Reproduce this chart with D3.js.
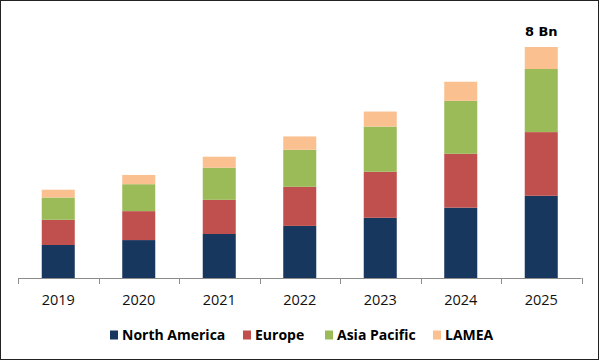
<!DOCTYPE html>
<html>
<head>
<meta charset="utf-8">
<script src="https://cdn.jsdelivr.net/npm/d3@7"></script>
<style>
  body { margin: 0; background: #fff; }
  svg { display: block; }
</style>
</head>
<body>
<div class="chart"></div>
<script>
// values in Bn
const years = ["2019", "2020", "2021", "2022", "2023", "2024", "2025"];
const northAmerica = [1.14, 1.31, 1.52, 1.80, 2.08, 2.43, 2.84];
const europe = [0.87, 1.00, 1.18, 1.35, 1.59, 1.86, 2.20];
const asiaPacific = [0.77, 0.93, 1.11, 1.28, 1.56, 1.83, 2.18];
const lamea = [0.27, 0.32, 0.38, 0.46, 0.52, 0.66, 0.76];
const regions = ["North America", "Europe", "Asia Pacific", "LAMEA"];
const colors = ["#17375E", "#C0504D", "#9BBB59", "#FAC090"];
const topLabel = "8 Bn";

const WIDTH = 600, HEIGHT = 361;
const MARGINS = { top: 47, right: 18.5, bottom: 83, left: 18 };

const rows = years.map(function (y, i) {
  return { year: y, "North America": northAmerica[i], "Europe": europe[i],
           "Asia Pacific": asiaPacific[i], "LAMEA": lamea[i] };
});

const svg = d3.select(".chart")
  .append("svg")
  .attr("width", WIDTH)
  .attr("height", HEIGHT);

svg.append("rect")
  .attr("x", 0.5).attr("y", 0.5)
  .attr("width", WIDTH - 2).attr("height", HEIGHT - 2)
  .attr("fill", "#fff")
  .attr("stroke", "#222");

const xRange = d3.scaleBand()
  .domain(years)
  .range([MARGINS.left, WIDTH - MARGINS.right])
  .paddingInner(0.59)
  .paddingOuter(0.295);

const stack = d3.stack().keys(regions)(rows);
const maxTotal = d3.max(stack[stack.length - 1], function (d) { return d[1]; });

const yRange = d3.scaleLinear()
  .domain([0, maxTotal])
  .range([HEIGHT - MARGINS.bottom, MARGINS.top]);

const color = d3.scaleOrdinal().domain(regions).range(colors);

svg.selectAll(".series")
  .data(stack)
  .enter()
  .append("g")
  .attr("class", "series")
  .attr("fill", function (d) { return color(d.key); })
  .selectAll("rect")
  .data(function (d) { return d; })
  .enter()
  .append("rect")
  .attr("x", function (d) { return xRange(d.data.year); })
  .attr("y", function (d) { return yRange(d[1]); })
  .attr("height", function (d) { return yRange(d[0]) - yRange(d[1]); })
  .attr("width", xRange.bandwidth());

// axis: line plus ticks on category boundaries
const baseY = yRange(0);
const axis = svg.append("g").attr("stroke", "#8c8c8c").attr("stroke-width", 1);
axis.append("line")
  .attr("x1", MARGINS.left).attr("x2", WIDTH - MARGINS.right)
  .attr("y1", baseY + 0.5).attr("y2", baseY + 0.5);
const step = xRange.step();
const bounds = d3.range(years.length + 1).map(function (i) {
  return MARGINS.left + i * step;
});
axis.selectAll(".tick")
  .data(bounds)
  .enter()
  .append("line")
  .attr("x1", function (d) { return Math.round(d) + 0.5; })
  .attr("x2", function (d) { return Math.round(d) + 0.5; })
  .attr("y1", baseY)
  .attr("y2", baseY + 6);

svg.selectAll(".year")
  .data(years)
  .enter()
  .append("text")
  .attr("class", "year")
  .attr("x", function (d) { return xRange(d) + xRange.bandwidth() / 2; })
  .attr("y", baseY + 27)
  .attr("text-anchor", "middle")
  .style("font-family", "'Open Sans', sans-serif")
  .style("font-size", "14.5px")
  .style("fill", "#111")
  .text(function (d) { return d; });

// total label on last bar
const last = years[years.length - 1];
svg.append("text")
  .attr("x", xRange(last) + xRange.bandwidth() / 2)
  .attr("y", yRange(maxTotal) - 11)
  .attr("text-anchor", "middle")
  .style("font-family", "'DejaVu Sans', sans-serif")
  .style("font-weight", "bold")
  .style("font-size", "13px")
  .style("fill", "#000")
  .text(topLabel);

// legend
const legendX = [110, 243, 325, 433];
const legend = svg.selectAll(".legend")
  .data(regions)
  .enter()
  .append("g")
  .attr("class", "legend")
  .attr("transform", function (d, i) { return "translate(" + legendX[i] + ",335)"; });
legend.append("rect")
  .attr("x", 0).attr("y", -4.5)
  .attr("width", 8).attr("height", 9)
  .attr("fill", function (d) { return color(d); });
legend.append("text")
  .attr("x", 12)
  .attr("y", 5)
  .style("font-family", "'Open Sans', sans-serif")
  .style("font-weight", "bold")
  .style("font-size", "14px")
  .style("fill", "#000")
  .text(function (d) { return d; });
</script>
</body>
</html>
